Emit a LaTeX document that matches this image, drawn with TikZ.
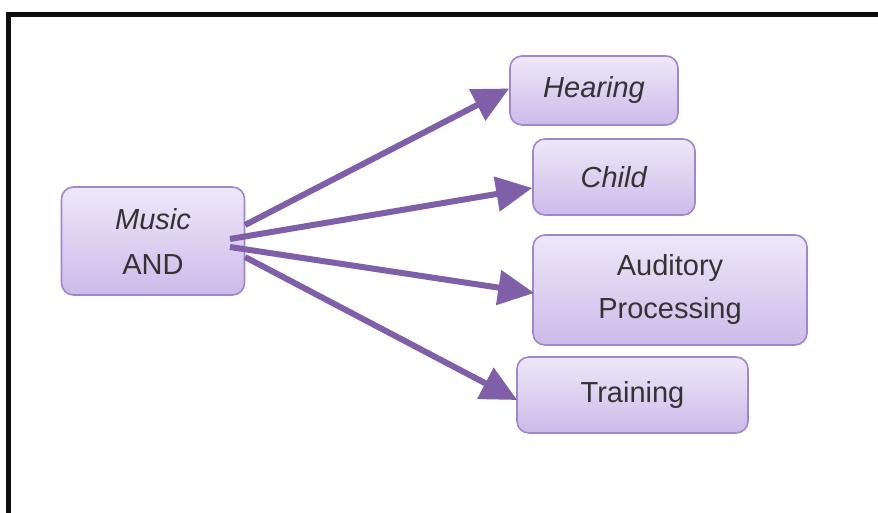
\documentclass[tikz,border=0pt]{standalone}
\usepackage{fontspec}
\setmainfont{Liberation Sans}
\usetikzlibrary{arrows.meta,calc}
\definecolor{arrowc}{HTML}{7F5FA8}
\definecolor{boxtop}{HTML}{EEE8F8}
\definecolor{boxbot}{HTML}{CDBAEA}
\definecolor{boxline}{HTML}{A186C9}
\tikzset{
  termbox/.style={draw=boxline, line width=1.6pt, rounded corners=12pt,
    top color=boxtop, bottom color=boxbot, inner sep=0pt, align=center,
    font=\fontsize{29}{44}\selectfont, text=black!80},
  link/.style={draw=arrowc, line width=6pt,
    -{Triangle[length=36pt,width=34pt]}}
}
\begin{document}
\begin{tikzpicture}[x=1pt,y=-1pt]
\useasboundingbox (0,0) rectangle (878,513);
\fill[white] (0,0) rectangle (878,513);
% frame
\draw[line width=5pt, black!95] (8,513) -- (8,15) -- (878,15);
% nodes
\node[termbox, minimum width=183pt, minimum height=108pt] (music) at (153,241) {\textit{Music}\\[1pt]AND};
\node[termbox, minimum width=168pt, minimum height=69pt] (hear) at (594,90.5) {\textit{Hearing}};
\node[termbox, minimum width=162pt, minimum height=76pt] (child) at (614,177) {\textit{Child}};
\node[termbox, minimum width=274pt, minimum height=110pt] (aud) at (670,290) {Auditory\\[-1pt]Processing};
\node[termbox, minimum width=231pt, minimum height=76pt] (train) at (632.5,395) {Training};
% start points on Music box
\coordinate (s1) at (245,225);
\coordinate (s2) at (230,239);
\coordinate (s3) at (230,247);
\coordinate (s4) at (245,257);
\coordinate (t1) at ($(hear.west)+(0,-2)$);
\coordinate (t2) at ($(child.west)+(0,11)$);
\coordinate (t3) at ($(aud.west)+(2,3)$);
\coordinate (t4) at ($(train.west)+(1,5)$);
\draw[link] (s1) -- (t1);
\draw[link] (s2) -- (t2);
\draw[link] (s3) -- (t3);
\draw[link] (s4) -- (t4);
\end{tikzpicture}
\end{document}
